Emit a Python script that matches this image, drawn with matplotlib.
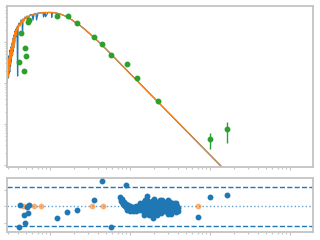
import matplotlib
matplotlib.use("Agg")
import matplotlib.pyplot as plt
import numpy as np

# model spectrum (fine)
wav_model = [0.290, 0.2925, 0.295, 0.2985, 0.302, 0.305, 0.309, 0.313, 0.316, 0.320,
             0.324, 0.327, 0.331, 0.335, 0.339, 0.343, 0.347, 0.351, 0.355, 0.361,
             0.365, 0.372, 0.376, 0.382, 0.387, 0.393, 0.398, 0.410, 0.422, 0.434,
             0.447, 0.453, 0.460, 0.473, 0.487, 0.501, 0.516, 0.531, 0.546, 0.562,
             0.596, 0.613, 0.631, 0.668, 0.678, 0.708, 0.750, 0.818, 0.829, 0.866,
             0.879, 0.944, 1.044, 1.050, 1.059, 1.189, 1.334, 1.496, 1.679, 1.884,
             2.113, 2.371, 2.738, 3.162, 3.652, 4.217, 237]
flux_model = [364, 100, 325, 132, 456, 166, 407, 185, 638, 260,
              755, 325, 894, 456, 1000, 570, 1253, 714, 1482, 1000,
              1854, 1324, 2075, 1660, 2321, 148, 2455, 2904, 2600, 3443,
              3073, 1482, 3639, 3443, 4074, 3741, 4305, 2904, 4305, 4560,
              4688, 3443, 4819, 4955, 3443, 5093, 5093, 5248, 4074, 5248,
              4140, 5248, 5248, 4000, 5248, 5093, 4819, 4430, 3962, 3443,
              2904, 2525, 2018, 1567, 1216, 946, 0.318]

# model spectrum (binned)
wav_bin = [0.290, 0.294, 0.2985, 0.303, 0.307, 0.312, 0.316, 0.321, 0.325, 0.330,
           0.335, 0.340, 0.345, 0.350, 0.355, 0.360, 0.365, 0.370, 0.376, 0.381,
           0.387, 0.398, 0.410, 0.422, 0.434, 0.447, 0.460, 0.473, 0.487, 0.501,
           0.516, 0.531, 0.562, 0.596, 0.631, 0.668, 0.708, 0.750, 0.841, 0.944,
           1.059, 1.189, 1.334, 1.496, 1.679, 1.884, 2.113, 2.371, 2.738, 3.162,
           3.652, 4.217, 237]
flux_bin = [325, 166, 407, 140, 364, 207, 570, 290, 714, 407,
            894, 482, 1119, 714, 1400, 894, 1754, 1253, 1963, 1482,
            2321, 1963, 2745, 2455, 3252, 2904, 3639, 3252, 3962, 3639,
            4188, 3962, 4430, 4560, 4819, 4955, 4955, 5093, 5248, 5248,
            5248, 5093, 4819, 4430, 3962, 3443, 2904, 2525, 2018, 1567,
            1216, 946, 0.318]

# photometry
wav_phot = [0.410, 0.430, 0.477, 0.491, 0.506, 0.535, 0.551, 1.23, 1.655, 2.19,
            3.58, 4.51, 5.78, 9.1, 12.3, 22.4, 100, 164]
flux_phot = [324, 1630, 196, 702, 456, 3126, 3443, 4375, 4235, 2858,
             1303, 879, 482, 286, 130, 36.4, 4.24, 7.43]
err_phot = [0, 0, 0, 0, 0, 0, 0, 0, 0, 0,
            0, 0, 0, 0, 0, 0, 1.8, 4.0]

# residuals
wav_res = [0.413, 0.425, 0.477, 0.491, 0.511, 0.535, 0.551, 1.23, 1.64, 2.19,
           3.58, 4.51, 5.84, 8.99, 100, 164, 71.4,
           7.50, 7.61, 7.72, 7.94, 8.18, 8.41, 8.66, 8.91, 9.17, 9.44,
           9.71, 10.0, 10.29, 10.59, 10.9, 11.2, 11.5, 11.9, 12.2, 12.6,
           12.9, 7.94, 8.41, 8.91, 9.44, 10.0, 10.59, 11.2, 11.9, 12.6,
           9.17, 10.0, 10.9, 11.9, 12.9,
           13.7, 14.1, 14.5, 14.9, 15.4, 15.8, 16.3, 16.3, 16.8, 17.3,
           17.8, 18.3, 18.8, 19.4, 19.4, 20.0, 20.5, 21.1, 21.7, 22.4,
           23.0, 23.7, 24.4, 25.1, 25.9, 26.6, 27.4, 28.2, 29.0, 29.9,
           30.8, 31.6, 32.6, 33.5, 34.5, 35.5, 36.5, 37.6, 38.7, 39.8,
           14.5, 15.8, 17.8, 20.5, 23.7, 27.4, 31.6, 36.5, 14.9, 17.3,
           21.7, 25.1, 29.9, 22.4, 18.8, 15.4, 32.6, 13.3, 13.3, 25.9,
           28.2, 20.0, 29.9, 37.6, 39.8]
res = [-3.18, 0.24, -1.36, -2.58, -0.06, -1.06, 0.20, -1.82, -0.91, -0.61,
       0.91, 3.83, -3.09, 3.18, 1.36, 1.67, -1.67,
       1.41, 1.11, 0.80, 0.65, 0.35, 0.20, 0.05, -0.11, -0.26, -0.33,
       -0.41, -0.48, -0.48, -0.48, -0.41, -0.41, -0.33, -0.33, -0.26, -0.26,
       -0.18, 1.11, 0.73, 0.42, 0.20, 0.05, -0.03, -0.11, 0.05, 0.12,
       -0.56, -0.71, -0.71, -0.64, -0.56,
       0.35, -0.26, -0.71, 0.65, 0.05, -1.02, 1.64, 0.95, -0.41, 0.35,
       -0.86, -0.11, 0.80, -1.82, -0.56, 0.20, -1.17, -0.26, 0.65, -0.71,
       0.05, 0.95, -1.02, -0.41, 0.35, -0.11, -0.71, 0.65, 0.05, -1.17,
       -0.41, 0.73, 0.20, -0.71, -0.11, 0.50, -0.41, -0.86, 0.05, -0.26,
       0.05, -0.26, 0.20, -0.41, -0.11, 0.20, -0.26, 0.20, -1.24, -1.32,
       -1.32, 0.95, 0.50, 0.35, -1.02, 1.03, -1.17, -0.26, 0.50, -0.71,
       -0.56, 1.11, 1.03, 0.50, -0.71]

# points without residual (plotted at zero)
wav_zero = [0.460, 0.516, 0.631, 0.772, 3.35, 4.60, 71.4]
res_zero = [0, 0, 0, 0, 0, 0, 0]

spine_col = "#c4c4c4"

fig = plt.figure(figsize=(3.2, 2.4), dpi=100)
ax = fig.add_axes([0.022, 0.306, 0.956, 0.669])
axr = fig.add_axes([0.022, 0.033, 0.956, 0.225], sharex=ax)

ax.plot(wav_model, flux_model, color="C0", lw=0.9)
ax.plot(wav_bin, flux_bin, color="C1", lw=0.9)
ax.errorbar(wav_phot, flux_phot, yerr=err_phot, fmt="o", color="C2",
            ms=3.2, elinewidth=1.0, capsize=0, zorder=5)
ax.set_xscale("log")
ax.set_yscale("log")
ax.set_xlim(0.290, 1939)
ax.set_ylim(0.918, 7550)

axr.axhline(3, color="C0", ls="--", lw=1.0, zorder=1)
axr.axhline(-3, color="C0", ls="--", lw=1.0, zorder=1)
axr.axhline(0, color="C0", ls=":", lw=1.0, alpha=0.7, zorder=1)
axr.plot(wav_zero, res_zero, "o", color="C1", alpha=0.5, ms=3.2, zorder=2)
axr.plot(wav_res, res, "o", color="C0", ms=3.2, zorder=3)
axr.set_ylim(-3.89, 4.29)
axr.set_yticks([-2.5, 0, 2.5])

for a in (ax, axr):
    for s in a.spines.values():
        s.set_color(spine_col)
        s.set_linewidth(1.3)
    a.tick_params(which="both", colors=spine_col, length=2, width=0.8,
                  labelleft=False, labelbottom=False)
    a.tick_params(which="minor", length=1.2)

fig.savefig("out.png", dpi=100)
